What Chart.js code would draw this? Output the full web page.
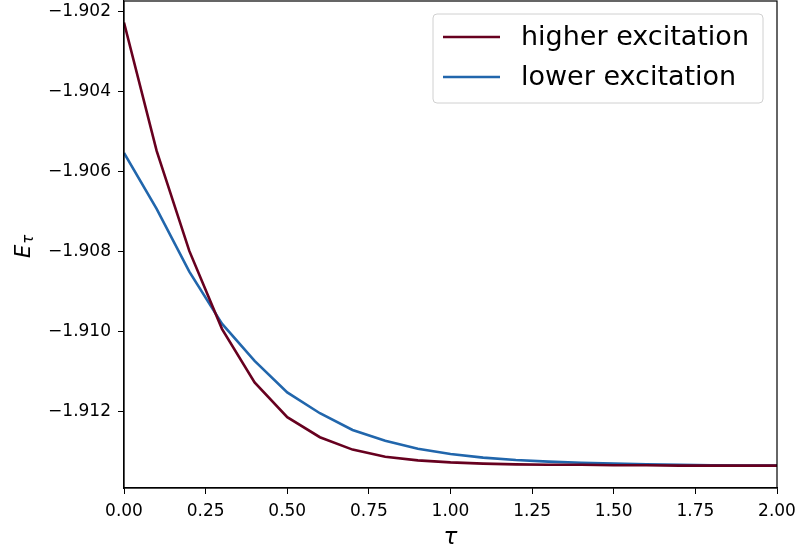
<!DOCTYPE html>
<html>
<head>
<meta charset="utf-8">
<script src="https://cdn.jsdelivr.net/npm/chart.js@4/dist/chart.umd.min.js"></script>
<style>
html,body{margin:0;padding:0;background:#fff;}
#wrap{width:800px;height:550px;position:relative;}
</style>
</head>
<body>
<div id="wrap"><canvas id="c" width="800" height="550"></canvas></div>
<script>
const tau = [0,0.1,0.2,0.3,0.4,0.5,0.6,0.7,0.8,0.9,1.0,1.1,1.2,1.3,1.4,1.5,1.6,1.7,1.8,1.9,2.0];
const higher = [-1.90227,-1.90548,-1.90798,-1.90993,-1.91127,-1.91214,-1.91264,-1.91295,-1.91313,-1.91322,-1.91327,-1.91330,-1.91332,-1.91333,-1.91333,-1.91334,-1.91334,-1.91335,-1.91335,-1.91335,-1.91335];
const lower = [-1.90553,-1.90693,-1.90850,-1.90980,-1.91073,-1.91152,-1.91204,-1.91246,-1.91273,-1.91293,-1.91306,-1.91315,-1.91321,-1.91325,-1.91328,-1.91330,-1.91332,-1.91333,-1.91334,-1.91335,-1.91335];
const seriesNames = ['higher excitation','lower excitation'];
const yTicks = [-1.902,-1.904,-1.906,-1.908,-1.910,-1.912];
const xTicks = [0,0.25,0.5,0.75,1.0,1.25,1.5,1.75,2.0];
const colors = ['#67001f','#2166ac'];
const FONT = 'DejaVu Sans';

const frameAndLegend = {
  id:'frameAndLegend',
  afterDraw(chart){
    const ctx = chart.ctx, a = chart.chartArea;
    ctx.save();
    ctx.strokeStyle = '#000'; ctx.lineWidth = 1.2;
    ctx.strokeRect(a.left, a.top, a.right - a.left, a.bottom - a.top);
    // legend
    const lx = 433, ly = 14, lw = 330, lh = 89, r = 4;
    ctx.beginPath();
    ctx.moveTo(lx+r, ly); ctx.lineTo(lx+lw-r, ly); ctx.quadraticCurveTo(lx+lw, ly, lx+lw, ly+r);
    ctx.lineTo(lx+lw, ly+lh-r); ctx.quadraticCurveTo(lx+lw, ly+lh, lx+lw-r, ly+lh);
    ctx.lineTo(lx+r, ly+lh); ctx.quadraticCurveTo(lx, ly+lh, lx, ly+lh-r);
    ctx.lineTo(lx, ly+r); ctx.quadraticCurveTo(lx, ly, lx+r, ly);
    ctx.closePath();
    ctx.fillStyle = 'rgba(255,255,255,0.8)'; ctx.fill();
    ctx.strokeStyle = '#d0d0d0'; ctx.lineWidth = 1; ctx.stroke();
    const rows = [37, 77];
    ctx.font = '27px "' + FONT + '"';
    ctx.textBaseline = 'middle'; ctx.textAlign = 'left';
    chart.data.datasets.forEach((ds, i) => {
      ctx.strokeStyle = ds.borderColor; ctx.lineWidth = 2.6;
      ctx.beginPath(); ctx.moveTo(443, rows[i]); ctx.lineTo(500, rows[i]); ctx.stroke();
      ctx.fillStyle = '#000';
      ctx.fillText(ds.label, 521, rows[i] + 1);
    });
    // axis titles
    ctx.font = 'italic 23px "' + FONT + '"';
    ctx.textAlign = 'center'; ctx.textBaseline = 'alphabetic';
    ctx.fillText('τ', (a.left + a.right)/2, 544);
    ctx.translate(30, 258);
    ctx.rotate(-Math.PI/2);
    ctx.textAlign = 'left';
    ctx.font = 'italic 21px "' + FONT + '"';
    const wE = ctx.measureText('E').width;
    ctx.fillText('E', 0, 0);
    ctx.font = 'italic 15px "' + FONT + '"';
    ctx.fillText('τ', wE + 1, 3);
    ctx.restore();
  }
};

new Chart(document.getElementById('c'), {
  type: 'line',
  data: {
    datasets: [
      {label: seriesNames[0], data: tau.map((t,i)=>({x:t,y:higher[i]})), borderColor: colors[0], backgroundColor: colors[0], borderWidth: 2.6, pointRadius: 0, tension: 0, fill: false},
      {label: seriesNames[1], data: tau.map((t,i)=>({x:t,y:lower[i]})), borderColor: colors[1], backgroundColor: colors[1], borderWidth: 2.6, pointRadius: 0, tension: 0, fill: false}
    ]
  },
  options: {
    responsive: false,
    animation: false,
    devicePixelRatio: 1,
    layout: {padding: {top: 1, right: 23, left: 0, bottom: 0}},
    plugins: {legend: {display: false}, tooltip: {enabled: false}},
    scales: {
      x: {
        type: 'linear', min: 0, max: 2,
        afterBuildTicks(s){ s.ticks = xTicks.map(v=>({value:v})); },
        afterFit(s){ s.height = 62; s.paddingLeft = 0; s.paddingRight = 0; },
        ticks: {color:'#000', font:{family:FONT, size:17}, padding: 7, maxRotation: 0,
          callback: v => v.toFixed(2)},
        grid: {display: true, drawOnChartArea: false, drawTicks: true, tickLength: 6, color:'#000', lineWidth: 1},
        border: {display: true, color:'#000', width: 1.2}
      },
      y: {
        type: 'linear', min: -1.91391, max: -1.90173,
        afterBuildTicks(s){ s.ticks = yTicks.map(v=>({value:v})); },
        afterFit(s){ s.width = 124; s.paddingTop = 0; s.paddingBottom = 0; },
        ticks: {color:'#000', font:{family:FONT, size:17}, padding: 7,
          callback: v => '\u2212' + Math.abs(v).toFixed(3)},
        grid: {display: true, drawOnChartArea: false, drawTicks: true, tickLength: 6, color:'#000', lineWidth: 1},
        border: {display: true, color:'#000', width: 1.2}
      }
    }
  },
  plugins: [frameAndLegend]
});
</script>
</body>
</html>
